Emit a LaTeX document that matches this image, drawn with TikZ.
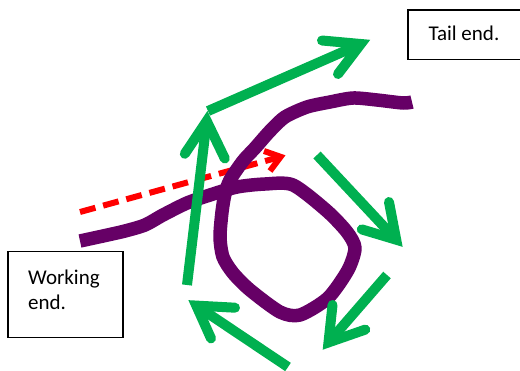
\documentclass[tikz,border=0pt]{standalone}
\usepackage{fontspec}
\setmainfont{Carlito}
\definecolor{ropecol}{HTML}{660066}
\definecolor{grn}{HTML}{00B050}
\begin{document}
\begin{tikzpicture}[x=1pt,y=-1pt,
  lbl/.style={font=\fontsize{21}{25.6}\selectfont, inner sep=0pt, anchor=base west},
  boxed/.style={draw=black, line width=1.2pt, inner sep=0pt, anchor=north west},
  gshaft/.style={draw=grn, line width=10pt, line cap=butt},
  ghead/.style={draw=grn, line width=10pt, line cap=round, line join=miter, miter limit=20},
  ropeline/.style={draw=ropecol, line width=13.5pt, line join=round, line cap=butt},
  redshaft/.style={draw=red, line width=6pt, dash pattern=on 16pt off 8pt},
  redhead/.style={draw=red, line width=6pt, line join=miter, miter limit=20}]
\useasboundingbox (0,0) rectangle (520,370);
\clip (0,0) rectangle (520,370);

% text boxes
\node[boxed, minimum width=115pt, minimum height=86pt] (work) at (7.3,250.7) {};
\node[lbl] (worktxt) at (28,284) {Working};
\node[lbl] (worktxt2) at (28,309.6) {end.};
\node[boxed, minimum width=125pt, minimum height=49.7pt] (tail) at (407.3,9.3) {};
\node[lbl] (tailtxt) at (428.3,40.8) {Tail end.};

% red dashed arrow
\coordinate (rs) at (80,212);
\coordinate (rt) at (280.6,156.8);
\coordinate (rb1) at (264,151);
\coordinate (rb2) at (270,171);
\draw[redshaft] (rs) -- (rt);
\draw[redhead] (rb1) -- (rt) -- (rb2);

% green arrow 1 (head under the rope)
\coordinate (a1s) at (187,285);
\coordinate (a1t) at (206.7,121);
\coordinate (a1b1) at (184.8,153.8);
\coordinate (a1b2) at (224.8,158.5);
\draw[ghead] (a1b1) -- (a1t) -- (a1b2);

% rope
\draw[ropeline] plot[smooth, tension=0.45] coordinates {
 (80,241) (103,236) (125,231) (145,225) (163,215) (187,203) (210,195)
 (237,187) (265,184) (293,185) (327,211) (347,232) (355,248) (348,270)
 (328,298) (300,315) (280,312) (250,290) (233,273) (223,257) (220,237)
 (222,212) (225,194) (230,180) (243,161) (255,148) (270,131) (285,117)
 (307,107) (330,102) (353,98) (377,100) (403,103) (412,102)};

% green arrow 1 shaft
\draw[gshaft] (a1s) -- (a1t);

% green arrow 2
\coordinate (a2s) at (208,111);
\coordinate (a2t) at (360.8,44);
\coordinate (a2b1) at (322,40.5);
\coordinate (a2b2) at (338,74);
\draw[gshaft] (a2s) -- (a2t);
\draw[ghead] (a2b1) -- (a2t) -- (a2b2);

% green arrow 3
\coordinate (a3s) at (317,155);
\coordinate (a3t) at (396.2,239.7);
\coordinate (a3b1) at (389,202);
\coordinate (a3b2) at (361.8,229.4);
\draw[gshaft] (a3s) -- (a3t);
\draw[ghead] (a3b1) -- (a3t) -- (a3b2);

% green arrow 4
\coordinate (a4s) at (387,275);
\coordinate (a4t) at (328.5,342.4);
\coordinate (a4b1) at (332.5,305);
\coordinate (a4b2) at (365.3,329.6);
\draw[gshaft] (a4s) -- (a4t);
\draw[ghead] (a4b1) -- (a4t) -- (a4b2);

% green arrow 5
\coordinate (a5s) at (288,367);
\coordinate (a5t) at (196.3,305.6);
\coordinate (a5b1) at (235,307.7);
\coordinate (a5b2) at (211,338.4);
\draw[gshaft] (a5s) -- (a5t);
\draw[ghead] (a5b1) -- (a5t) -- (a5b2);
\end{tikzpicture}
\end{document}
